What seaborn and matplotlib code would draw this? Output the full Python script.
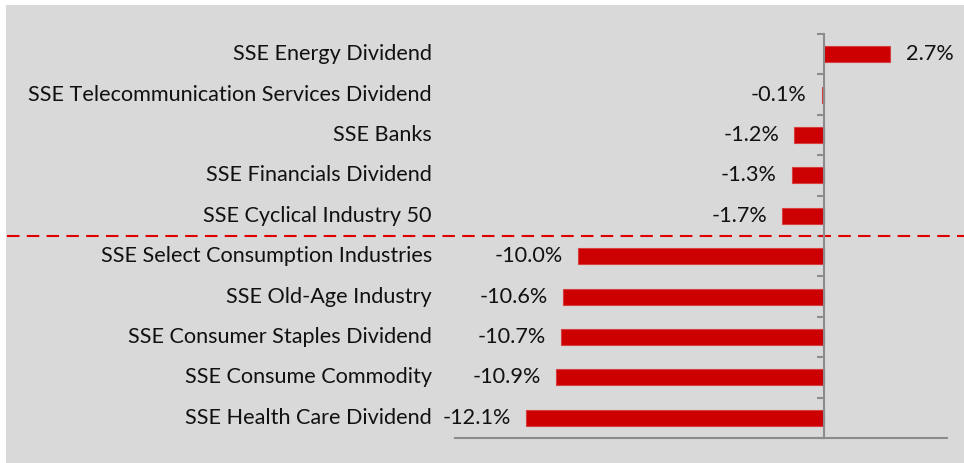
import pandas as pd
import matplotlib.pyplot as plt
import matplotlib.transforms as mtransforms
from matplotlib.patches import Rectangle
import seaborn as sns

# Index names and their returns (%)
indices = [
    'SSE Energy Dividend',
    'SSE Telecommunication Services Dividend',
    'SSE Banks',
    'SSE Financials Dividend',
    'SSE Cyclical Industry 50',
    'SSE Select Consumption Industries',
    'SSE Old-Age Industry',
    'SSE Consumer Staples Dividend',
    'SSE Consume Commodity',
    'SSE Health Care Dividend',
]
returns = [2.7, -0.1, -1.2, -1.3, -1.7, -10.0, -10.6, -10.7, -10.9, -12.1]


def main():
    sns.set_theme(style='white')
    plt.rcParams['font.family'] = ['Lato', 'DejaVu Sans']

    df = pd.DataFrame({'index': indices, 'ret': returns})

    fig = plt.figure(figsize=(9.64, 4.63), dpi=100)
    fig.patch.set_facecolor('white')
    # gray panel behind everything
    fig.patches.append(Rectangle((6 / 964, 0), 1, 1 - 5 / 463, transform=fig.transFigure,
                                 facecolor='#d9d9d9', edgecolor='none', zorder=-5))

    ax = fig.add_axes([455 / 964, 1 - 438 / 463, 492 / 964, 404 / 463])
    ax.set_facecolor('none')

    sns.barplot(data=df, x='ret', y='index', orient='h', color='#cc0000',
                saturation=1, width=0.4, linewidth=0.8, edgecolor='#d84040', ax=ax)

    ax.set_xlim(-15, 5)
    ax.set_ylim(len(indices) - 0.5, -0.5)
    ax.set_xlabel('')
    ax.set_ylabel('')

    # axes lines
    for side in ['top', 'right']:
        ax.spines[side].set_visible(False)
    ax.spines['left'].set_position(('data', 0))
    ax.spines['left'].set_color('#8c8c8c')
    ax.spines['left'].set_linewidth(1.5)
    ax.spines['bottom'].set_color('#8c8c8c')
    ax.spines['bottom'].set_linewidth(1.5)
    ax.set_xticks([])
    ax.set_yticks(range(len(indices)))
    ax.set_yticklabels([])
    ax.tick_params(axis='y', which='major', left=False, length=0)
    ax.set_yticks([i - 0.5 for i in range(len(indices) + 1)], minor=True)
    ax.tick_params(axis='y', which='minor', left=True, length=5, width=1.5,
                   color='#8c8c8c', direction='out')

    # category labels on the left
    trans = mtransforms.blended_transform_factory(ax.transAxes, ax.transData)
    for i, name in enumerate(indices):
        ax.text(-0.047, i, name, transform=trans, ha='right', va='center',
                fontsize=15.6, color='#111111', clip_on=False)

    # value labels
    for i, v in enumerate(returns):
        off = 11 if v > 0 else -11
        ax.annotate(f'{v:.1f}%', xy=(v, i), xytext=(off, 0), textcoords='offset points',
                    ha='left' if v > 0 else 'right', va='center', fontsize=15.6, color='#111111')

    # dashed separator between the two groups
    ax.plot([-0.91, 1.04], [4.5, 4.5], transform=trans, color='#dd0000',
            linestyle=(0, (6, 3.5)), linewidth=1.5, clip_on=False)

    fig.savefig('out.png', dpi=100)


if __name__ == "__main__":
    main()
